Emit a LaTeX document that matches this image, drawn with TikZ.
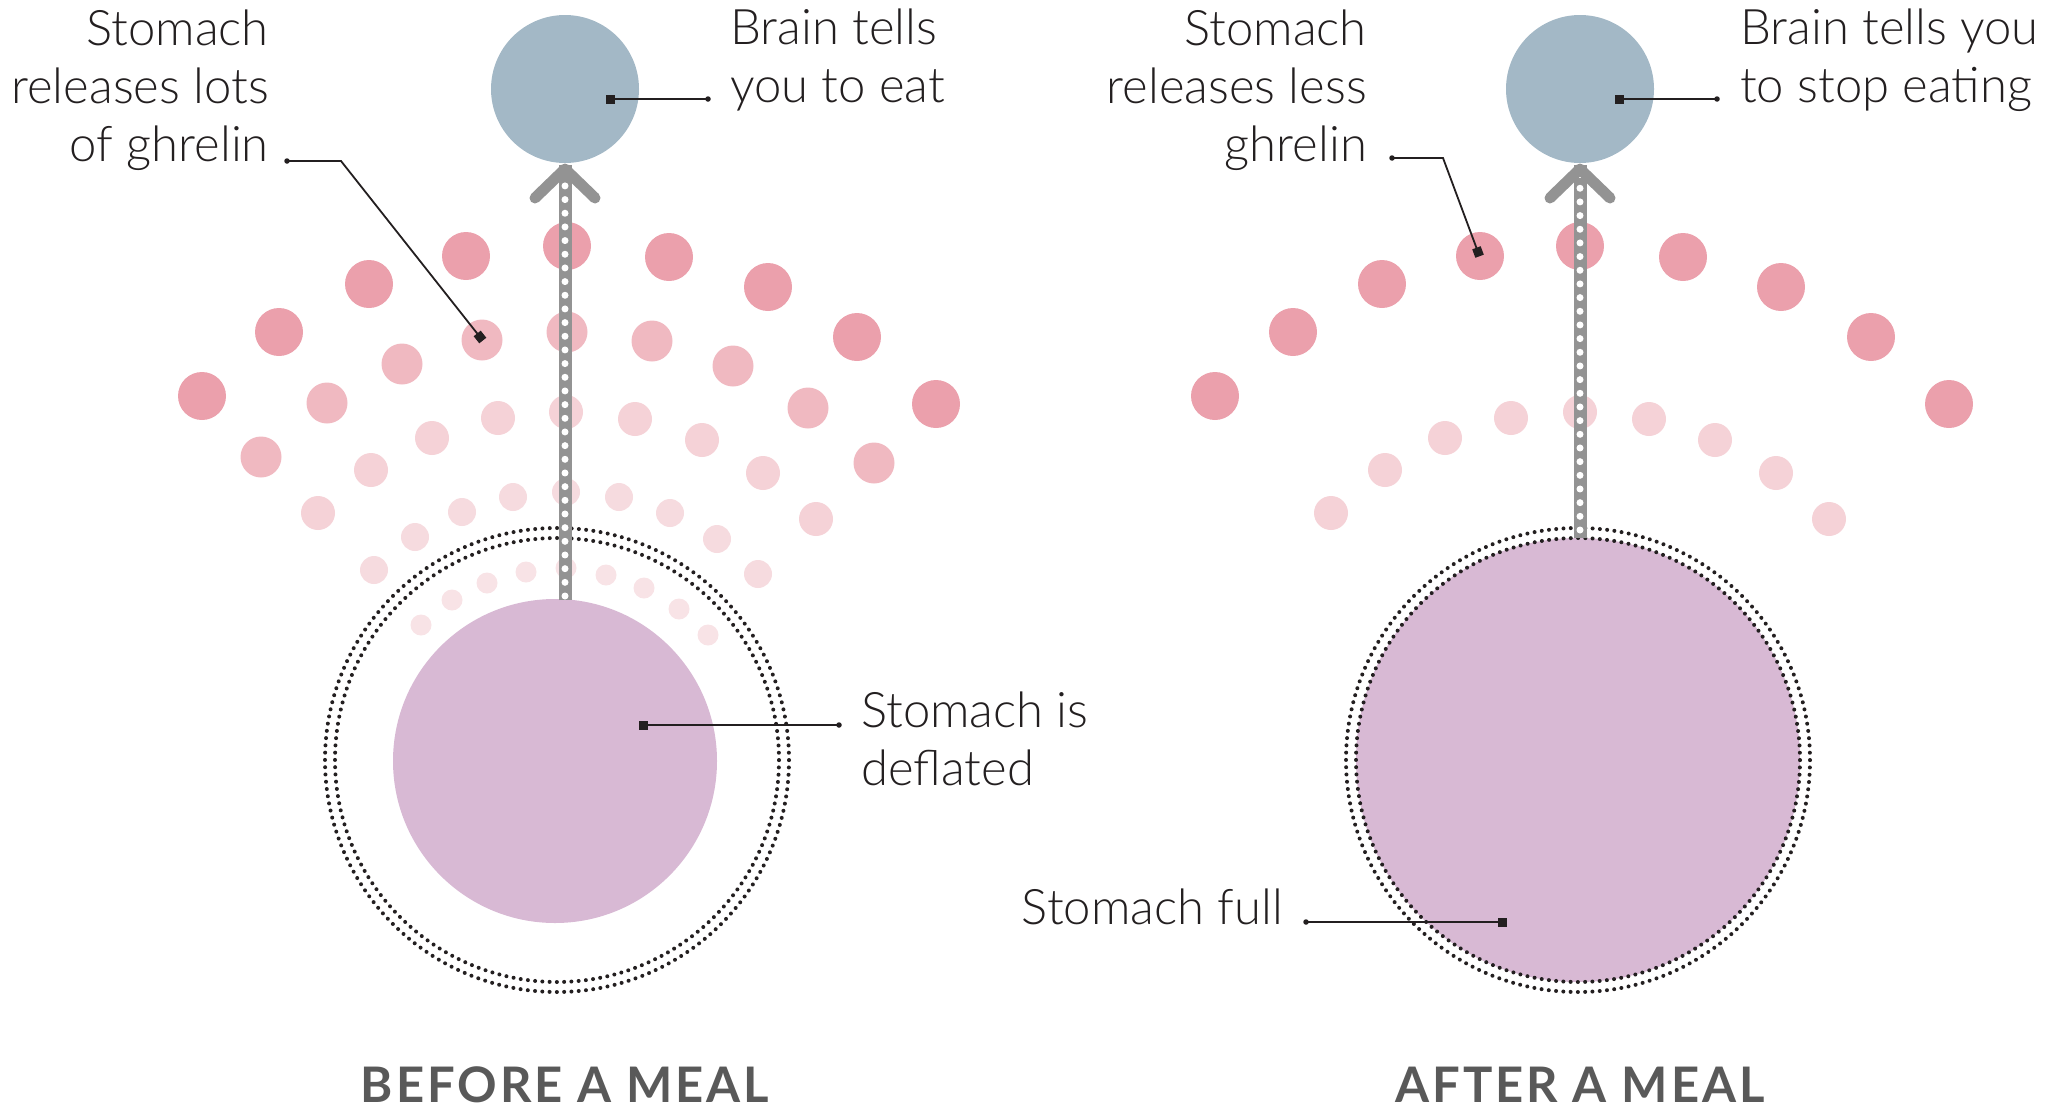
\documentclass[tikz,border=0pt]{standalone}
\usepackage{fontspec}
\setmainfont{Lato Light}
\newfontfamily\titlefont{Lato}[LetterSpace=6]
\definecolor{pinkA}{RGB}{235,160,172}
\definecolor{pinkB}{RGB}{240,185,193}
\definecolor{pinkC}{RGB}{245,210,215}
\definecolor{pinkD}{RGB}{246,219,223}
\definecolor{pinkE}{RGB}{248,227,230}
\definecolor{brainc}{RGB}{163,184,198}
\definecolor{stomc}{RGB}{216,185,212}
\definecolor{arrowc}{RGB}{147,147,147}
\definecolor{linec}{RGB}{35,31,32}
\definecolor{titlec}{RGB}{89,89,89}
\tikzset{
  brain/.style={circle,fill=brainc,draw=none,inner sep=0pt,minimum size=148pt},
  stomach/.style={circle,fill=stomc,draw=none,inner sep=0pt},
  ringouter/.style={draw=linec,line width=4pt,line cap=round,dash pattern=on 0pt off 7.2885pt},
  ringinner/.style={draw=linec,line width=4pt,line cap=round,dash pattern=on 0pt off 7.2649pt},
  label/.style={inner sep=0pt,text=linec,font=\fontsize{49}{58}\selectfont},
  title/.style={inner sep=0pt,text=titlec,font=\titlefont\bfseries\fontsize{49}{59}\selectfont},
  leader/.style={draw=linec,line width=1.8pt},
  marker/.style={fill=linec,inner sep=0pt,minimum size=9pt,draw=none},
  enddot/.style={fill=linec,circle,inner sep=0pt,minimum size=5.5pt,draw=none},
  bar/.style={draw=arrowc,line width=13pt},
  bardots/.style={draw=white,line width=7pt,line cap=round,dash pattern=on 0pt off 13.67pt},
  chevron/.style={draw=arrowc,line width=11pt,line cap=round,line join=round}
}
\begin{document}
\begin{tikzpicture}[x=1pt,y=-1pt]
\useasboundingbox (0,0) rectangle (2048,1109);

% ---------------- LEFT: BEFORE A MEAL ----------------
\foreach \px/\py in {202/396,279/332,369/284,466/256,567/246,669/257,768/287,857/337,936/404}
  \fill[pinkA] (\px,\py) circle[radius=24pt];
\foreach \px/\py in {261/457,327/403,402/364,482/340,567/332,652/341,733/366,808/408,874/463}
  \fill[pinkB] (\px,\py) circle[radius=20.5pt];
\foreach \px/\py in {318/513,371/470,432/438,498/418,566/412,635/419,702/440,763/473,816/519}
  \fill[pinkC] (\px,\py) circle[radius=17pt];
\foreach \px/\py in {374/570,415/537,462/512,513/497,566/492,619/497,670/513,717/539,758/574}
  \fill[pinkD] (\px,\py) circle[radius=14pt];
\foreach \px/\py in {421/625,452/600,487/583,526/572,566/568,606/575,644/588,679/609,708/635}
  \fill[pinkE] (\px,\py) circle[radius=10.5pt];

\draw[ringouter] (557,760) circle[radius=232pt];
\draw[ringinner] (557,760) circle[radius=222pt];
\node[stomach,minimum size=324pt] (stomL) at (555,761) {};
\node[brain] (brainL) at (565,89) {};

\coordinate (arrLtop) at (565,165);
\coordinate (arrLbot) at (565,600);
\draw[bar] (arrLbot) -- (arrLtop);
\draw[bardots] (565,596) -- (565,171);
\draw[chevron] (535,198) -- (565,169) -- (595,198);

\node[label,align=right,anchor=base east] (ghrL) at (269,161) {Stomach\\releases lots\\of ghrelin};
\coordinate (ghrLa) at (287,161);
\coordinate (ghrLb) at (341,161);
\coordinate (ghrLc) at (480,337);
\draw[leader] (ghrLa) -- (ghrLb) -- (ghrLc);
\node[enddot] at (ghrLa) {};
\node[marker,rotate=-51.7] at (ghrLc) {};

\node[label,align=left,anchor=base west] (brainLtxt) at (730,102) {Brain tells\\you to eat};
\coordinate (brLa) at (610,99);
\coordinate (brLb) at (708,99);
\draw[leader] (brLa) -- (brLb);
\node[marker] at (brLa) {};
\node[enddot] at (brLb) {};

\node[label,align=left,anchor=base west] (defl) at (861,785) {Stomach is\\deflated};
\coordinate (dfa) at (643,725);
\coordinate (dfb) at (839,725);
\draw[leader] (dfa) -- (dfb);
\node[marker] at (dfa) {};
\node[enddot] at (dfb) {};

\node[title,anchor=base] (titleL) at (565,1102) {BEFORE A MEAL};

% ---------------- RIGHT: AFTER A MEAL ----------------
\foreach \px/\py in {1215/396,1293/332,1382/284,1480/256,1580/246,1683/257,1781/287,1871/337,1949/404}
  \fill[pinkA] (\px,\py) circle[radius=24pt];
\foreach \px/\py in {1331/513,1385/470,1445/438,1511/418,1580/412,1649/419,1715/440,1776/473,1829/519}
  \fill[pinkC] (\px,\py) circle[radius=17pt];

\node[stomach,minimum size=444pt] (stomR) at (1578,760) {};
\draw[ringouter] (1578,760) circle[radius=232pt];
\draw[ringinner] (1578,760) circle[radius=222pt];
\node[brain] (brainR) at (1580,89) {};

\coordinate (arrRtop) at (1580,165);
\coordinate (arrRbot) at (1580,538);
\draw[bar] (arrRbot) -- (arrRtop);
\draw[bardots] (1580,530) -- (1580,171);
\draw[chevron] (1550,198) -- (1580,169) -- (1610,198);

\node[label,align=right,anchor=base east] (ghrR) at (1367,161) {Stomach\\releases less\\ghrelin};
\coordinate (ghrRa) at (1392,158);
\coordinate (ghrRb) at (1443,158);
\coordinate (ghrRc) at (1478,252);
\draw[leader] (ghrRa) -- (ghrRb) -- (ghrRc);
\node[enddot] at (ghrRa) {};
\node[marker,rotate=-69.6] at (ghrRc) {};

\node[label,align=left,anchor=base west] (brainRtxt) at (1740,102) {Brain tells you\\to stop eating};
\coordinate (brRa) at (1619,99);
\coordinate (brRb) at (1717,99);
\draw[leader] (brRa) -- (brRb);
\node[marker] at (brRa) {};
\node[enddot] at (brRb) {};

\node[label,anchor=base east] (full) at (1283,924) {Stomach full};
\coordinate (fla) at (1306,922);
\coordinate (flb) at (1502,922);
\draw[leader] (fla) -- (flb);
\node[enddot] at (fla) {};
\node[marker] at (flb) {};

\node[title,anchor=base] (titleR) at (1580,1102) {AFTER A MEAL};
\end{tikzpicture}
\end{document}
